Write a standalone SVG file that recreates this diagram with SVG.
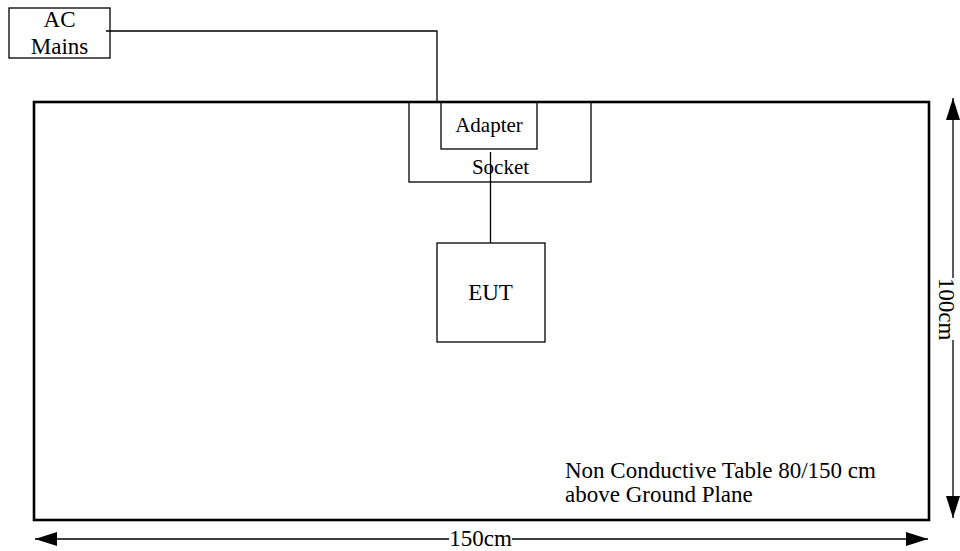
<svg xmlns="http://www.w3.org/2000/svg" width="960" height="551" viewBox="0 0 960 551">
  <style>
    .box { fill: none; stroke: #000; stroke-width: 1.3; }
    .table { fill: none; stroke: #000; stroke-width: 2.6; }
    .wire { fill: none; stroke: #000; stroke-width: 1.3; }
    .dim { fill: none; stroke: #000; stroke-width: 1.3; }
    text { font-family: "Liberation Serif", "Times New Roman", serif; fill: #000; }
    .lbl { font-size: 23px; }
    .sm { font-size: 21px; }
  </style>
  <defs>
    <marker id="ah" markerUnits="userSpaceOnUse" viewBox="0 -7 22 14" refX="22" refY="0" markerWidth="22" markerHeight="14" orient="auto-start-reverse">
      <path d="M0,-7 L22,0 L0,7 z" fill="#000"/>
    </marker>
  </defs>

  <g id="table">
    <rect class="table" x="34" y="102" width="895" height="418"/>
    <text class="lbl" x="565" y="478">Non Conductive Table 80/150 cm</text>
    <text class="lbl" x="565" y="502">above Ground Plane</text>
  </g>

  <g id="ac-mains">
    <rect class="box" x="9" y="8" width="101" height="50"/>
    <text class="lbl" x="59.5" y="27" text-anchor="middle">AC</text>
    <text class="lbl" x="59.5" y="54" text-anchor="middle">Mains</text>
  </g>

  <g id="socket">
    <rect class="box" x="409" y="102" width="182" height="80"/>
    <text class="sm" x="500.5" y="174" text-anchor="middle">Socket</text>
  </g>

  <g id="adapter">
    <rect class="box" x="441" y="102" width="96" height="47"/>
    <text class="sm" x="489" y="132" text-anchor="middle">Adapter</text>
  </g>

  <g id="eut">
    <rect class="box" x="437" y="243" width="108" height="99"/>
    <text class="lbl" x="490.5" y="300" text-anchor="middle">EUT</text>
  </g>

  <g id="connectors">
    <polyline class="wire" points="106,31 437,31 437,102"/>
    <line class="wire" x1="490.5" y1="152" x2="490.5" y2="243"/>
  </g>

  <g id="dimensions">
    <line class="dim" x1="449" y1="539" x2="35" y2="539" marker-end="url(#ah)"/>
    <line class="dim" x1="512" y1="539" x2="928" y2="539" marker-end="url(#ah)"/>
    <text class="lbl" x="480.5" y="546" text-anchor="middle">150cm</text>
    <line class="dim" x1="953" y1="278" x2="953" y2="98" marker-end="url(#ah)"/>
    <line class="dim" x1="953" y1="340" x2="953" y2="518" marker-end="url(#ah)"/>
    <text class="lbl" transform="translate(939,309) rotate(90)" text-anchor="middle">100cm</text>
  </g>
</svg>
